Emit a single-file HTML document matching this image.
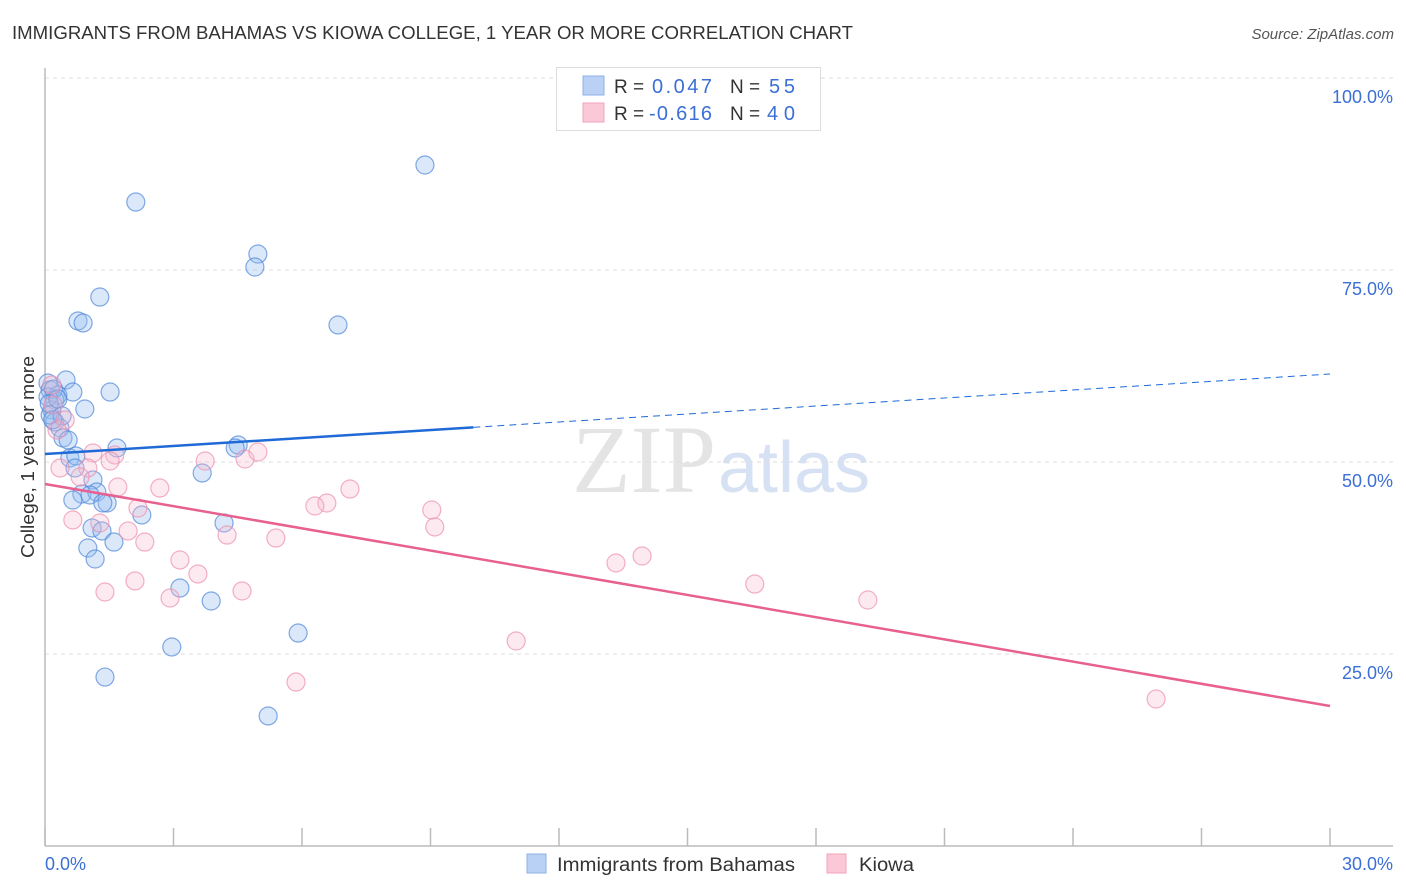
<!DOCTYPE html>
<html><head><meta charset="utf-8"><style>
body{margin:0;background:#fff;font-family:"Liberation Sans",sans-serif;}
svg{display:block}
</style></head><body>
<svg id="chart" width="1406" height="892" xmlns="http://www.w3.org/2000/svg">
<text x="12" y="39" font-size="18" fill="#333" textLength="841" lengthAdjust="spacingAndGlyphs">IMMIGRANTS FROM BAHAMAS VS KIOWA COLLEGE, 1 YEAR OR MORE CORRELATION CHART</text>
<text x="1394" y="39" font-size="15" fill="#555" font-style="italic" text-anchor="end">Source: ZipAtlas.com</text>
<text x="716" y="492" font-size="96" fill="#e4e4e4" font-family="Liberation Serif,serif" text-anchor="end">ZIP</text>
<text x="718" y="492" font-size="72" fill="#d6e2f3">atlas</text>
<g id="grid"></g>
<g id="axes"></g>
<g id="marks"></g>
<text transform="translate(34,457) rotate(-90)" font-size="18" fill="#333" text-anchor="middle" textLength="202" lengthAdjust="spacingAndGlyphs">College, 1 year or more</text>
<text x="45" y="870" font-size="18" fill="#3b6fd6">0.0%</text>
<text x="1393" y="870" font-size="18" fill="#3b6fd6" text-anchor="end">30.0%</text>
<g>
<rect x="556.5" y="67.5" width="264" height="63" fill="#fff" stroke="#ddd"/>
<rect x="583" y="76" width="21" height="19" fill="#b8d1f5" stroke="#8fb1e8"/>
<rect x="583" y="103" width="21" height="19" fill="#fac8d6" stroke="#f0a3bb"/>
<text x="614" y="93" font-size="19" fill="#333">R =</text>
<text x="652" y="93" font-size="20" fill="#3b6fd6" textLength="60">0.047</text>
<text x="730" y="93" font-size="19" fill="#333">N =</text>
<text x="769" y="93" font-size="20" fill="#3b6fd6" textLength="26">55</text>
<text x="614" y="120" font-size="19" fill="#333">R =</text>
<text x="649" y="120" font-size="20" fill="#3b6fd6" textLength="63">-0.616</text>
<text x="730" y="120" font-size="19" fill="#333">N =</text>
<text x="767" y="120" font-size="20" fill="#3b6fd6" textLength="28">40</text>
</g>
<g>
<rect x="527" y="854" width="19" height="19" fill="#b8d1f5" stroke="#8fb1e8"/>
<text x="557" y="871" font-size="19" fill="#333" textLength="238" lengthAdjust="spacingAndGlyphs">Immigrants from Bahamas</text>
<rect x="827" y="854" width="19" height="19" fill="#fac8d6" stroke="#f0a3bb"/>
<text x="859" y="871" font-size="19" fill="#333" textLength="55" lengthAdjust="spacingAndGlyphs">Kiowa</text>
</g>
</svg>
<script>
const blueX=[2.12,8.87,4.97,4.90,1.28,0.77,0.89,6.84,0.07,0.49,0.12,0.30,0.65,1.52,0.23,0.16,0.93,0.23,0.35,0.42,0.54,1.68,4.51,4.44,0.58,0.72,0.70,3.67,1.12,0.86,1.21,1.05,0.65,1.45,1.35,2.26,4.18,1.10,1.33,1.61,1.00,1.17,3.15,3.88,5.91,2.96,1.40,5.21,0.07,0.12,0.20,0.10,0.40,0.30,0.18];
const blueY=[83.85,88.67,77.08,75.39,71.48,68.36,68.10,67.84,60.29,60.68,59.38,58.72,59.11,59.11,58.07,56.77,56.90,55.21,54.43,53.13,52.86,51.82,52.21,51.82,50.52,50.78,49.22,48.57,47.66,45.83,46.09,45.70,45.05,44.66,44.66,43.10,42.06,41.41,41.02,39.58,38.80,37.37,33.59,31.90,27.73,25.91,22.00,16.93,58.46,56.12,59.5,57.6,56.0,58.2,55.5];
const pinkX=[0.16,0.19,0.47,0.28,1.12,1.63,1.52,3.74,4.67,4.97,0.35,1.00,0.82,1.70,2.68,7.12,6.58,6.30,2.17,9.03,0.65,1.28,1.94,9.10,4.25,2.33,5.39,3.15,13.94,13.33,2.10,3.57,16.57,1.40,4.60,2.92,19.21,11.00,5.86,25.94];
const pinkY=[60.03,57.42,55.47,54.17,51.17,50.91,50.13,50.13,50.39,51.30,49.22,49.22,48.05,46.74,46.61,46.48,44.66,44.27,44.01,43.75,42.45,42.06,41.02,41.54,40.49,39.58,40.10,37.24,37.76,36.85,34.51,35.42,34.11,33.07,33.20,32.29,32.03,26.69,21.35,19.14];
const yTicks=[25,50,75,100];
const yTickLabels=["25.0%","50.0%","75.0%","100.0%"];
const xTicks=[0,3,6,9,12,15,18,21,24,27,30];
const blueLine=[51.04,61.46];
const pinkLine=[47.14,18.23];
const NS="http://www.w3.org/2000/svg";
const sx=v=>45+v/30*1285, sy=v=>846-v/100*768;
function mk(tag,attrs,parent){const e=document.createElementNS(NS,tag);for(const k in attrs)e.setAttribute(k,attrs[k]);parent.appendChild(e);return e;}
const grid=document.getElementById('grid'),axes=document.getElementById('axes'),marks=document.getElementById('marks');
yTicks.forEach((t,i)=>{
  const l=mk('line',{x1:45,x2:1393,y1:sy(t),y2:sy(t),stroke:'#ddd','stroke-dasharray':'4,4'},grid);
  
  
  const tx=mk('text',{x:1393,y:sy(t)+25,'font-size':18,fill:'#3b6fd6','text-anchor':'end'},grid);
  tx.textContent=yTickLabels[i];
  
  
});
const ya=mk('line',{x1:45,x2:45,y1:68,y2:846,stroke:'#bbb','stroke-width':1.5},axes);


const xa=mk('line',{x1:45,x2:1393,y1:846,y2:846,stroke:'#bbb','stroke-width':1.5},axes);


xTicks.forEach(t=>{
  const l=mk('line',{x1:sx(t),x2:sx(t),y1:828,y2:846,stroke:'#bbb','stroke-width':1.5},axes);
  
  
});
blueX.forEach((x,i)=>{
  const c=mk('circle',{cx:sx(x),cy:sy(blueY[i]),r:9,fill:'rgba(150,190,240,0.35)',stroke:'#4f86d9','stroke-width':1.2,'stroke-opacity':0.7},marks);
  
  
});
pinkX.forEach((x,i)=>{
  const c=mk('circle',{cx:sx(x),cy:sy(pinkY[i]),r:9,fill:'rgba(248,185,205,0.3)',stroke:'#ec8fae','stroke-width':1.2,'stroke-opacity':0.7},marks);
  
  
});
const bm=blueLine[0]+(blueLine[1]-blueLine[0])*(10/30);
const b1=mk('line',{x1:sx(0),y1:sy(blueLine[0]),x2:sx(10),y2:sy(bm),stroke:'#1f6ad6','stroke-width':2.5},marks);


const b2=mk('line',{x1:sx(10),y1:sy(bm),x2:sx(30),y2:sy(blueLine[1]),stroke:'#1f6ad6','stroke-width':1,'stroke-dasharray':'7,5'},marks);


const p1=mk('line',{x1:sx(0),y1:sy(pinkLine[0]),x2:sx(30),y2:sy(pinkLine[1]),stroke:'#e8608f','stroke-width':2.5},marks);


</script>
</body></html>
